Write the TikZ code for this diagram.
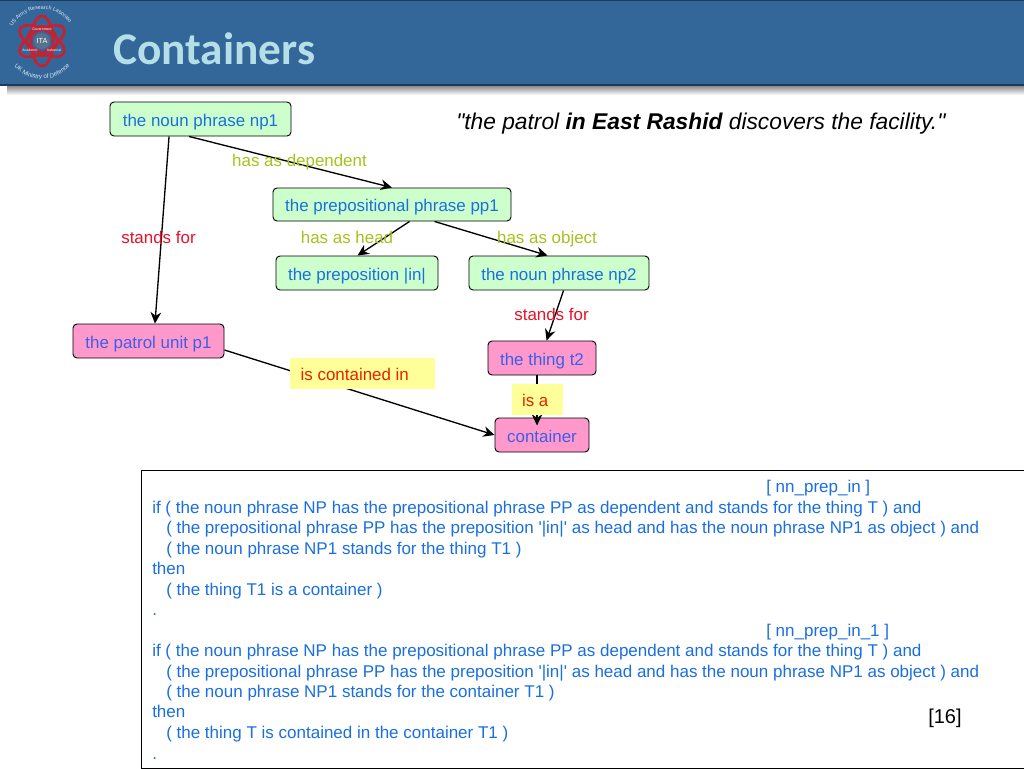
\documentclass[tikz,border=0pt]{standalone}
\usepackage{fontspec}
\setmainfont{Liberation Sans}
\newfontfamily\arial{Liberation Sans}
\newfontfamily\carl{Carlito}
\usetikzlibrary{arrows.meta,decorations.text}
\definecolor{hdr}{HTML}{336699}
\definecolor{hdrline}{HTML}{1B3A5C}
\definecolor{shade}{HTML}{8A8580}
\definecolor{ttl}{HTML}{B5DFE6}
\definecolor{gfill}{HTML}{CCFFCC}
\definecolor{pfill}{HTML}{FF99CC}
\definecolor{yfill}{HTML}{FFFF99}
\definecolor{gtext}{HTML}{1A6FE0}
\definecolor{ptext}{HTML}{3B5FE6}
\definecolor{lgreen}{HTML}{A6C21E}
\definecolor{lred}{HTML}{E8102A}
\definecolor{ored}{HTML}{E62200}
\definecolor{logored}{HTML}{C8202E}
\tikzset{
 txt/.style={font=\arial\fontsize{12.7}{15}\selectfont,text height=12pt,text depth=1.5pt},
 base/.style={txt,draw=black,line width=0.7pt,rounded corners=3pt,inner sep=0pt},
 gbox/.style={base,fill=gfill,text=gtext},
 pbox/.style={base,fill=pfill,text=ptext},
 ybox/.style={txt,fill=yfill,text=ored,inner sep=0pt},
 lab/.style={txt,inner sep=0pt},
 arr/.style={draw=black,line width=1pt,-{Stealth[length=8.5pt,width=8pt]}},
 rule/.style={anchor=west,inner sep=0pt,text=gtext,font=\arial\fontsize{12.75}{15}\selectfont,text height=11pt,text depth=2pt},
 orbit/.style={draw=logored,line width=2pt},
 logotxt/.style={inner sep=0pt,text=white,font=\arial\fontsize{2.6}{3}\selectfont}
}
\newcommand{\boxnode}[7]{\node[#1,minimum width=#4*0.75pt,minimum height=#5*0.75pt] (#2) at (#3) {#7};}
\begin{document}
\begin{tikzpicture}[x=0.75pt,y=-0.75pt]
\useasboundingbox (0,0) rectangle (1024,768);
\fill[white] (0,0) rectangle (1024,768);
% header
\fill[shade] (7,85) rectangle (1024,95);
\fill[hdr] (0,0) rectangle (1024,85);
\draw[hdrline,line width=1pt] (0,0.5) -- (1024,0.5);
\draw[hdrline,line width=1pt] (0,85) -- (1024,85);
\node[anchor=base west,inner sep=0pt,text=ttl,font=\carl\bfseries\fontsize{34}{40}\selectfont] (title) at (113,64) {Containers};
% logo
\draw[draw=logored,line width=1.4pt] (42,41) circle (15);
\foreach \a in {30,90,150}{\draw[orbit,rotate around={\a:(42,41)}] (42,41) ellipse [x radius=25,y radius=11];}
\fill[gray!45!hdr] (42,41) circle (8);
\node[inner sep=0pt,text=white,font=\arial\fontsize{5.5}{6}\selectfont] (ita) at (42,41) {ITA};
\node[logotxt] (gov) at (42,29) {Government};
\node[logotxt] (aca) at (30,50) {Academic};
\node[logotxt] (ind) at (54,50) {Industrial};
\path[decorate,decoration={text along path,text align=center,text={|\arial\fontsize{4}{5}\selectfont\color{white!85!hdr}|US Army Research Laboratory}}] plot[domain=215:325,samples=30] ({42+33*cos(\x)},{42+33*sin(\x)});
\path[decorate,decoration={text along path,text align=center,text={|\arial\fontsize{4.6}{5}\selectfont\color{white!85!hdr}|UK Ministry of Defence}}] plot[domain=145:35,samples=30] ({42+37*cos(\x)},{42+37*sin(\x)});
% quote
\node[anchor=base west,inner sep=0pt,font=\arial\itshape\fontsize{17.08}{20}\selectfont] (quote) at (456,129.5) {"the patrol \textbf{in East Rashid} discovers the facility."};
% nodes
\boxnode{gbox}{np1}{200.5,119}{181}{34}{}{the noun phrase np1}
\boxnode{gbox}{pp1}{392,204.5}{238}{33}{}{the prepositional phrase pp1}
\boxnode{gbox}{prep}{357,273}{162}{34}{}{the preposition |in|}
\boxnode{gbox}{np2}{559,273}{180}{34}{}{the noun phrase np2}
\boxnode{pbox}{p1}{148.5,341}{151}{34}{}{the patrol unit p1}
\boxnode{pbox}{t2}{542,358}{108}{34}{}{the thing t2}
\boxnode{pbox}{cont}{542,435}{94}{34}{}{container}
% connectors
\draw[arr] ([xshift=59.5*0.75pt]np1.south west) -- ([xshift=-69.5*0.75pt]p1.north east);
\draw[arr] ([xshift=79.5*0.75pt]np1.south west) -- (pp1.north);
\draw[arr] ([xshift=137*0.75pt]pp1.south west) -- ([xshift=82*0.75pt]prep.north west);
\draw[arr] ([xshift=162*0.75pt]pp1.south west) -- ([xshift=79*0.75pt]np2.north west);
\draw[arr] ([xshift=95*0.75pt]np2.south west) -- ([xshift=59*0.75pt]t2.north west);
\draw[arr] ([xshift=49.5*0.75pt]t2.south west) -- ([xshift=42.5*0.75pt,yshift=-6pt]cont.north west);
\draw[arr] ([yshift=-6.75pt]p1.east) -- (cont.west);
% labels
\node[ybox,minimum width=145*0.75pt,minimum height=31*0.75pt] (lbcont) at (362.5,373.5) {\makebox[108.75pt][l]{\hspace{8pt}is contained in}};
\node[ybox,minimum width=51*0.75pt,minimum height=31*0.75pt] (lbisa) at (537.5,399.5) {\makebox[38.25pt][l]{\hspace{7.5pt}is a}};
\node[lab,text=lgreen] (l1) at (299.5,159.5) {has as dependent};
\node[lab,text=lred] (l2) at (158.5,236.5) {stands for};
\node[lab,text=lgreen] (l3) at (347,236.5) {has as head};
\node[lab,text=lgreen] (l4) at (547,236.5) {has as object};
\node[lab,text=lred] (l5) at (551.5,313.5) {stands for};
% rules box
\draw[black,line width=0.6pt,fill=white] (141,470) rectangle (1024,768);
\foreach \n/\yy/\xx/\t in {
 a1/486/766/{[ nn\_prep\_in ]},
 a2/507/152/{if ( the noun phrase NP has the prepositional phrase PP as dependent and stands for the thing T ) and},
 a3/527/166/{( the prepositional phrase PP has the preposition '|in|' as head and has the noun phrase NP1 as object ) and},
 a4/548/166/{( the noun phrase NP1 stands for the thing T1 )},
 a5/568/152/{then},
 a6/589/166/{( the thing T1 is a container )},
 a7/609/152/{.},
 b1/630/766/{[ nn\_prep\_in\_1 ]},
 b2/650/152/{if ( the noun phrase NP has the prepositional phrase PP as dependent and stands for the thing T ) and},
 b3/671/166/{( the prepositional phrase PP has the preposition '|in|' as head and has the noun phrase NP1 as object ) and},
 b4/691/166/{( the noun phrase NP1 stands for the container T1 )},
 b5/711/152/{then},
 b6/732/166/{( the thing T is contained in the container T1 )},
 b7/753/152/{.}}{
 \node[rule] (\n) at (\xx,\yy) {\t};
}
\node[anchor=west,inner sep=0pt,font=\arial\fontsize{15}{18}\selectfont] (cite) at (928,718) {[16]};
\end{tikzpicture}
\end{document}
